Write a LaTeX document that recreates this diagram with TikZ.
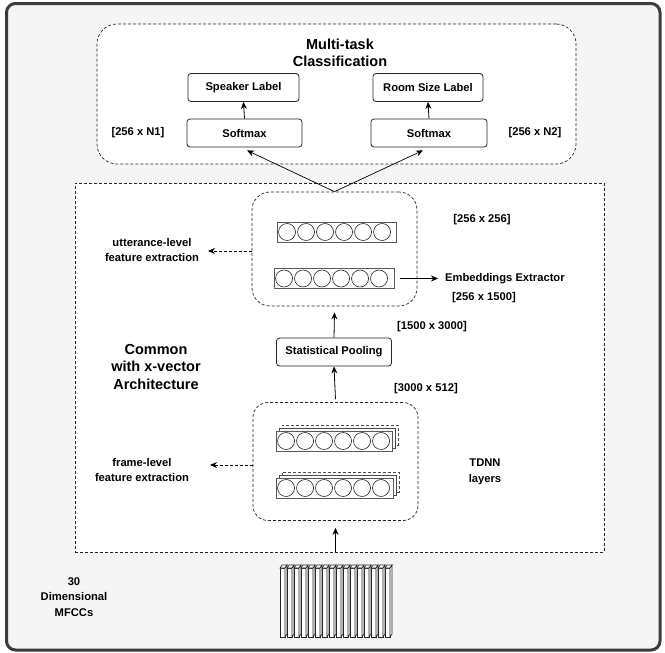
\documentclass[tikz,border=0pt]{standalone}
\usepackage{fontspec}
\setmainfont{Liberation Sans}
\usetikzlibrary{arrows.meta,calc}
\newcommand\labf{\fontsize{11.2}{15.5}\selectfont\bfseries}
\newcommand\titf{\fontsize{14.5}{17.5}\selectfont\bfseries}
\newcommand\barcircles[1]{\foreach \i in {0,...,5}{\draw[black!85, line width=0.6pt] ($(#1.west)+(10.5+19*\i,0)$) circle[radius=8.5pt];}}
\definecolor{framegray}{HTML}{3C3C3C}
\definecolor{bggray}{HTML}{F5F5F5}
\begin{document}
\begin{tikzpicture}[x=1pt,y=-1pt,
  lbl/.style={font=\labf, align=center, inner sep=0pt},
  ttl/.style={font=\titf, align=center, inner sep=0pt},
  box/.style={draw=black!85, fill=white, rounded corners=3pt, line width=0.8pt, font=\labf, inner sep=0pt, minimum height=28pt},
  dbox/.style={draw=black!85, fill=white, dash pattern=on 3pt off 2pt, line width=0.7pt, inner sep=0pt},
  bar/.style={draw=black!65, fill=white, line width=0.9pt, minimum height=20pt, inner sep=0pt},
  backbar/.style={draw=black!70, fill=white, line width=0.6pt, minimum height=20pt, inner sep=0pt},
  slab/.style={draw=black!85, fill=white, line width=0.7pt},
  arr/.style={-{Stealth[length=7pt,width=6pt]}, line width=0.8pt, black},
  darr/.style={arr, dash pattern=on 3pt off 2pt},
]
\useasboundingbox (0,0) rectangle (665,653);
% outer frame
\draw[draw=framegray, fill=bggray, line width=3pt, rounded corners=9pt] (6.5,3.5) rectangle (660,650);

% multi-task box
\node[dbox, rounded corners=20pt, minimum width=479pt, minimum height=140pt] (mt) at (336.5,94) {};
\node[ttl] (mtt) at (340,53) {Multi-task\\Classification};
\node[box, minimum width=111pt] (spk) at (243.5,87.5) {Speaker Label};
\node[box, minimum width=110pt] (room) at (428,87.5) {Room Size Label};
\node[box, minimum width=115pt] (sm1) at (244.5,133) {Softmax};
\node[box, minimum width=116pt] (sm2) at (429,133) {Softmax};
\node[lbl] (n1) at (138,133) {[256 x N1]};
\node[lbl] (n2) at (535,133) {[256 x N2]};

% common box
\node[dbox, minimum width=529pt, minimum height=369pt] (cb) at (339.5,367.5) {};
\node[ttl] (cmn) at (156,367) {Common\\with x-vector\\Architecture};

% utterance-level box
\node[dbox, rounded corners=18pt, minimum width=165pt, minimum height=114pt] (ub) at (334.5,249) {};
\node[bar, minimum width=119pt] (ub1) at (336.5,232) {};
\barcircles{ub1}
\node[bar, minimum width=120pt] (ub2) at (334,278.5) {};
\barcircles{ub2}
\node[lbl] (d1) at (482,220) {[256 x 256]};
\node[lbl, anchor=west] (emb) at (445,278.5) {Embeddings Extractor};
\node[lbl] (d2) at (484,298) {[256 x 1500]};
\node[lbl] (utt) at (152,250) {utterance-level\\feature extraction};
\coordinate (uttend) at (208,251);

% statistical pooling
\node[box, minimum width=115pt] (pool) at (334,352) {Statistical Pooling};
\node[lbl] (d3) at (432,327) {[1500 x 3000]};
\node[lbl] (d4) at (426,389) {[3000 x 512]};

% frame-level box
\node[dbox, rounded corners=15pt, minimum width=165pt, minimum height=118pt] (lb) at (335.5,461.5) {};
\node[backbar, dash pattern=on 3pt off 2pt, minimum width=116pt] (tb1c) at (340,435) {};
\node[backbar, minimum width=116pt] (tb1b) at (337,438) {};
\node[bar, minimum width=116pt] (tb1) at (334,441) {};
\barcircles{tb1}
\node[backbar, dash pattern=on 3pt off 2pt, minimum width=117pt] (tb2c) at (340.5,482) {};
\node[backbar, minimum width=117pt] (tb2b) at (337.5,485) {};
\node[bar, minimum width=117pt] (tb2) at (334.5,488) {};
\barcircles{tb2}
\node[lbl] (tdnn) at (485,472) {TDNN\\layers};
\node[lbl] (frm) at (142,470) {frame-level\\feature extraction};
\coordinate (frmend) at (210,465);

% MFCC slabs
\foreach \k in {0,...,15}{
  \pgfmathsetmacro\xo{280+7*\k}
  \draw[slab] (\xo,568) rectangle (\xo+5,637);
  \draw[slab] (\xo,568) -- (\xo+2,565) -- (\xo+7,565) -- (\xo+5,568) -- cycle;
  \draw[slab] (\xo+5,568) -- (\xo+7,565) -- (\xo+7,634) -- (\xo+5,637) -- cycle;
}
\node[minimum width=112pt, minimum height=72pt, inner sep=0pt] (mfcc) at (336,601) {};
\node[lbl] (mtext) at (74,597) {30\\Dimensional\\MFCCs};

% arrows
\draw[arr] (sm1.north) -- (spk.south);
\draw[arr] (sm2.north) -- (room.south);
\draw[arr, line width=0.7pt] (ub.north) -- ([shift={(2.5pt,-3pt)}]sm1.south);
\draw[arr, line width=0.7pt] (ub.north) -- ([shift={(-6pt,-3pt)}]sm2.south);
\draw[arr] ([xshift=6pt]ub2.east) -- ([xshift=-7pt]emb.west);
\draw[darr] (ub.west |- uttend) -- (uttend);
\draw[arr] (pool.north) -- ([yshift=-6pt]ub.south);
\draw[arr] ([yshift=3pt]lb.north) -- (pool.south);
\draw[darr] (lb.west |- frmend) -- (frmend);
\draw[arr] (cb.south -| lb.south) -- ([yshift=-7pt]lb.south);
\end{tikzpicture}
\end{document}
